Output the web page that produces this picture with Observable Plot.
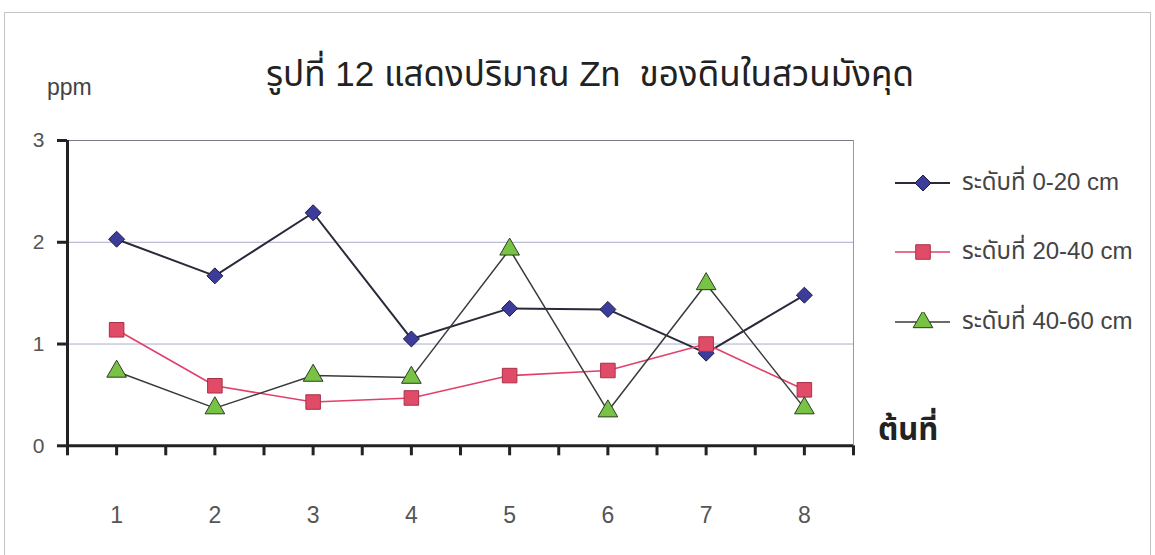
<!DOCTYPE html>
<html>
<head>
<meta charset="utf-8">
<script src="https://cdn.jsdelivr.net/npm/d3@7"></script>
<script src="https://cdn.jsdelivr.net/npm/@observablehq/plot@0.6"></script>
<style>
  body { margin: 0; background: #fff; }
  #wrap { position: relative; width: 1155px; height: 555px; overflow: hidden; background: #fff;
          font-family: "Liberation Sans", Arial, "Noto Sans Thai", "Noto Sans", sans-serif; }
  #frame { position: absolute; left: 4px; top: 12px; width: 1145px; height: 600px; border: 1px solid #c4c4c4; }
  #header { position: relative; height: 120px; }
  #ppm { position: absolute; left: 47px; top: 87px; transform: translateY(-50%); font-size: 23px; color: #444; line-height: 1; }
  #title { position: absolute; left: 590px; top: 74px; transform: translate(-50%, -50%); font-size: 35px; color: #222; white-space: pre; line-height: 1.2; }
  #xtitle { position: absolute; left: 878px; top: 430px; transform: translateY(-50%); font-size: 31px; font-weight: bold; color: #222; line-height: 1.2; }
  #legend { position: absolute; left: 895px; top: 0; }
  .lrow { position: absolute; left: 0; display: flex; align-items: center; white-space: nowrap; transform: translateY(-50%); }
  .lrow span { margin-left: 12px; font-size: 24px; color: #444; }
  #chart { position: absolute; left: 0; top: 120px; }
</style>
</head>
<body>
<div id="wrap">
  <div id="frame"></div>
  <div id="header">
    <div id="ppm">ppm</div>
    <div id="title"></div>
  </div>
  <div id="chart"></div>
  <div id="xtitle"></div>
  <div id="legend"></div>
</div>
<script>
const titleText = "รูปที่ 12 แสดงปริมาณ Zn  ของดินในสวนมังคุด";
const xTitle = "ต้นที่";
const yUnit = "ppm";
const trees = [1, 2, 3, 4, 5, 6, 7, 8];
const depth0_20 = [2.03, 1.67, 2.29, 1.05, 1.35, 1.34, 0.91, 1.48];
const depth20_40 = [1.14, 0.59, 0.43, 0.47, 0.69, 0.74, 1.00, 0.55];
const depth40_60 = [0.73, 0.37, 0.69, 0.67, 1.93, 0.34, 1.59, 0.37];
const seriesNames = ["ระดับที่ 0-20 cm", "ระดับที่ 20-40 cm", "ระดับที่ 40-60 cm"];
const yTicks = [0, 1, 2, 3];

document.getElementById("title").textContent = titleText;
document.getElementById("xtitle").textContent = xTitle;
document.getElementById("ppm").textContent = yUnit;

const styles = [
  {line: "#2a2a3a", lineWidth: 2, symbol: "diamond2", r: 7.2, fill: "#3c3c9a", stroke: "#1e1e40"},
  {line: "#e0406a", lineWidth: 1.6, symbol: "square", r: 8.2, fill: "#e04c68", stroke: "#a83048"},
  {line: "#3a3a3a", lineWidth: 1.5, symbol: "triangle", r: 7.3, fill: "#78c244", stroke: "#2e3a2a"}
];
const allSeries = [depth0_20, depth20_40, depth40_60];
const rows = allSeries.map((vals, s) => trees.map((t, i) => ({tree: t, value: vals[i], series: seriesNames[s]})));

const halfTicks = d3.range(0.5, 8.51, 0.5);

const marks = [
  Plot.gridY([1, 2], {stroke: "#a9abc9", strokeOpacity: 1, strokeWidth: 1}),
  Plot.gridY([3], {stroke: "#7a7a88", strokeOpacity: 1, strokeWidth: 1.2}),
  Plot.ruleX([8.5], {stroke: "#9a9a9a", strokeWidth: 1}),
  Plot.axisX({ticks: halfTicks, tickSize: 10, tickFormat: () => "", label: null, stroke: "#222", strokeWidth: 3}),
  Plot.axisX({ticks: trees, tickSize: 0, tickPadding: 61, fontSize: 23, fill: "#555", label: null, tickFormat: d => String(d)}),
  Plot.axisY({ticks: yTicks, tickSize: 10, tickPadding: 13, fontSize: 21, fill: "#555", stroke: "#222", strokeWidth: 3, label: null, tickFormat: d => String(d)}),
  Plot.ruleY([0], {stroke: "#222", strokeWidth: 3}),
  Plot.ruleX([0.5], {stroke: "#222", strokeWidth: 3})
];
rows.forEach((data, s) => {
  const st = styles[s];
  marks.push(Plot.line(data, {x: "tree", y: "value", stroke: st.line, strokeWidth: st.lineWidth}));
});
rows.forEach((data, s) => {
  const st = styles[s];
  marks.push(Plot.dot(data, {x: "tree", y: "value", symbol: () => st.symbol, r: st.r, fill: st.fill, stroke: st.stroke, strokeWidth: 1}));
});

const chart = Plot.plot({
  width: 1155,
  height: 435,
  marginLeft: 67,
  marginRight: 302,
  marginTop: 20,
  marginBottom: 109.7,
  style: {background: "transparent", fontFamily: "'Liberation Sans', Arial, sans-serif", overflow: "visible"},
  x: {type: "linear", domain: [0.5, 8.5], axis: null, label: null},
  y: {domain: [0, 3], axis: null, label: null},
  symbol: {type: "identity"},
  marks
});
document.getElementById("chart").appendChild(chart);

// legend
const legend = document.getElementById("legend");
const legendY = [183, 252, 322];
seriesNames.forEach((name, s) => {
  const st = styles[s];
  const row = document.createElement("div");
  row.className = "lrow";
  row.style.top = legendY[s] + "px";
  const svg = d3.create("svg").attr("width", 55).attr("height", 20);
  svg.append("line").attr("x1", 0).attr("x2", 55).attr("y1", 10).attr("y2", 10)
    .attr("stroke", st.line).attr("stroke-width", st.lineWidth);
  const sym = {diamond2: d3.symbolDiamond2, square: d3.symbolSquare, triangle: d3.symbolTriangle}[st.symbol];
  svg.append("path").attr("transform", "translate(28,10)")
    .attr("d", d3.symbol(sym, Math.PI * st.r * st.r)())
    .attr("fill", st.fill).attr("stroke", st.stroke);
  row.appendChild(svg.node());
  const sp = document.createElement("span");
  sp.textContent = name;
  row.appendChild(sp);
  legend.appendChild(row);
});
</script>
</body>
</html>
